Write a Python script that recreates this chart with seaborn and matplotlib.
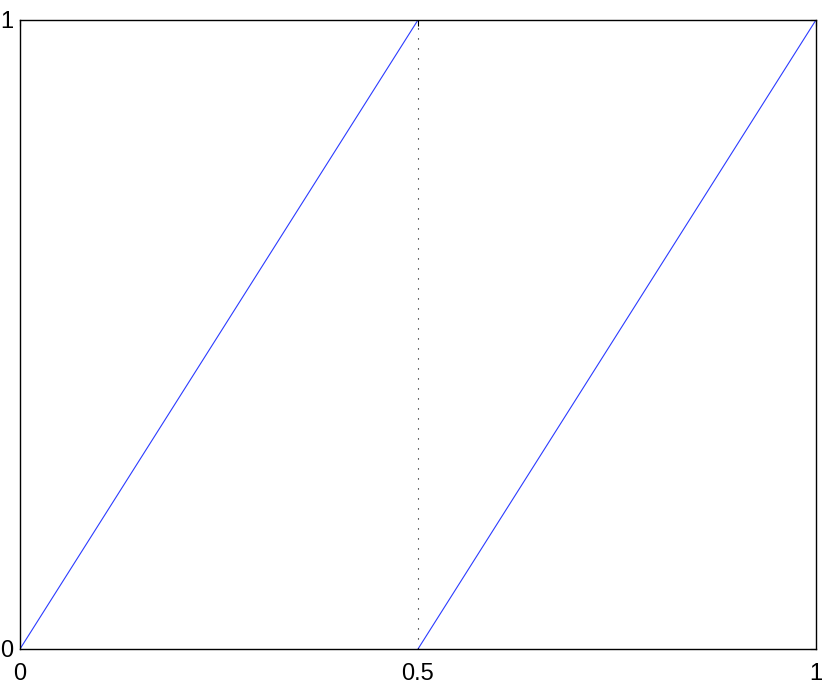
import matplotlib
matplotlib.use("Agg")
import matplotlib.pyplot as plt
import seaborn as sns
import pandas as pd

sns.set_style("white")
plt.rcParams['font.family'] = ['Liberation Sans', 'DejaVu Sans']

# data
ramp1_x = [0.0, 0.5]
ramp1_y = [0.0, 1.0]
ramp2_x = [0.5, 1.0]
ramp2_y = [0.0, 1.0]
split_x = [0.5, 0.5]
split_y = [0.0, 1.0]
xticks = [0, 0.5, 1]
xticklabels = ["0", "0.5", "1"]
yticks = [0, 1]
yticklabels = ["0", "1"]

fig = plt.figure(figsize=(8.3, 6.84), dpi=100)
ax = fig.add_axes([0.0241, 0.0512, 0.959, 0.9196])

d1 = pd.DataFrame({"x": ramp1_x, "y": ramp1_y})
d2 = pd.DataFrame({"x": ramp2_x, "y": ramp2_y})
d3 = pd.DataFrame({"x": split_x, "y": split_y})
sns.lineplot(data=d1, x="x", y="y", ax=ax, color="#2b3bff", linewidth=0.8,
             sort=False, estimator=None, errorbar=None)
sns.lineplot(data=d2, x="x", y="y", ax=ax, color="#2b3bff", linewidth=0.8,
             sort=False, estimator=None, errorbar=None)
# vertical divider: no aggregation, otherwise the two y values get averaged
sns.lineplot(data=d3, x="x", y="y", ax=ax, color="black", linewidth=0.8,
             sort=False, estimator=None, errorbar=None)
ax.lines[-1].set_linestyle((0, (1, 8)))

ax.set_xlim(0, 1)
ax.set_ylim(0, 1)
ax.set_xticks(xticks)
ax.set_xticklabels(xticklabels)
ax.set_yticks(yticks)
ax.set_yticklabels(yticklabels)
ax.set_xlabel("")
ax.set_ylabel("")
ax.tick_params(direction="in", length=4, width=0.8, labelsize=17,
               colors="black", top=True, right=True)
ax.tick_params(axis="x", pad=10)
ax.tick_params(axis="y", pad=5)
for s in ax.spines.values():
    s.set_visible(True)
    s.set_color("black")
    s.set_linewidth(1.0)

fig.savefig("out.png", dpi=100)
